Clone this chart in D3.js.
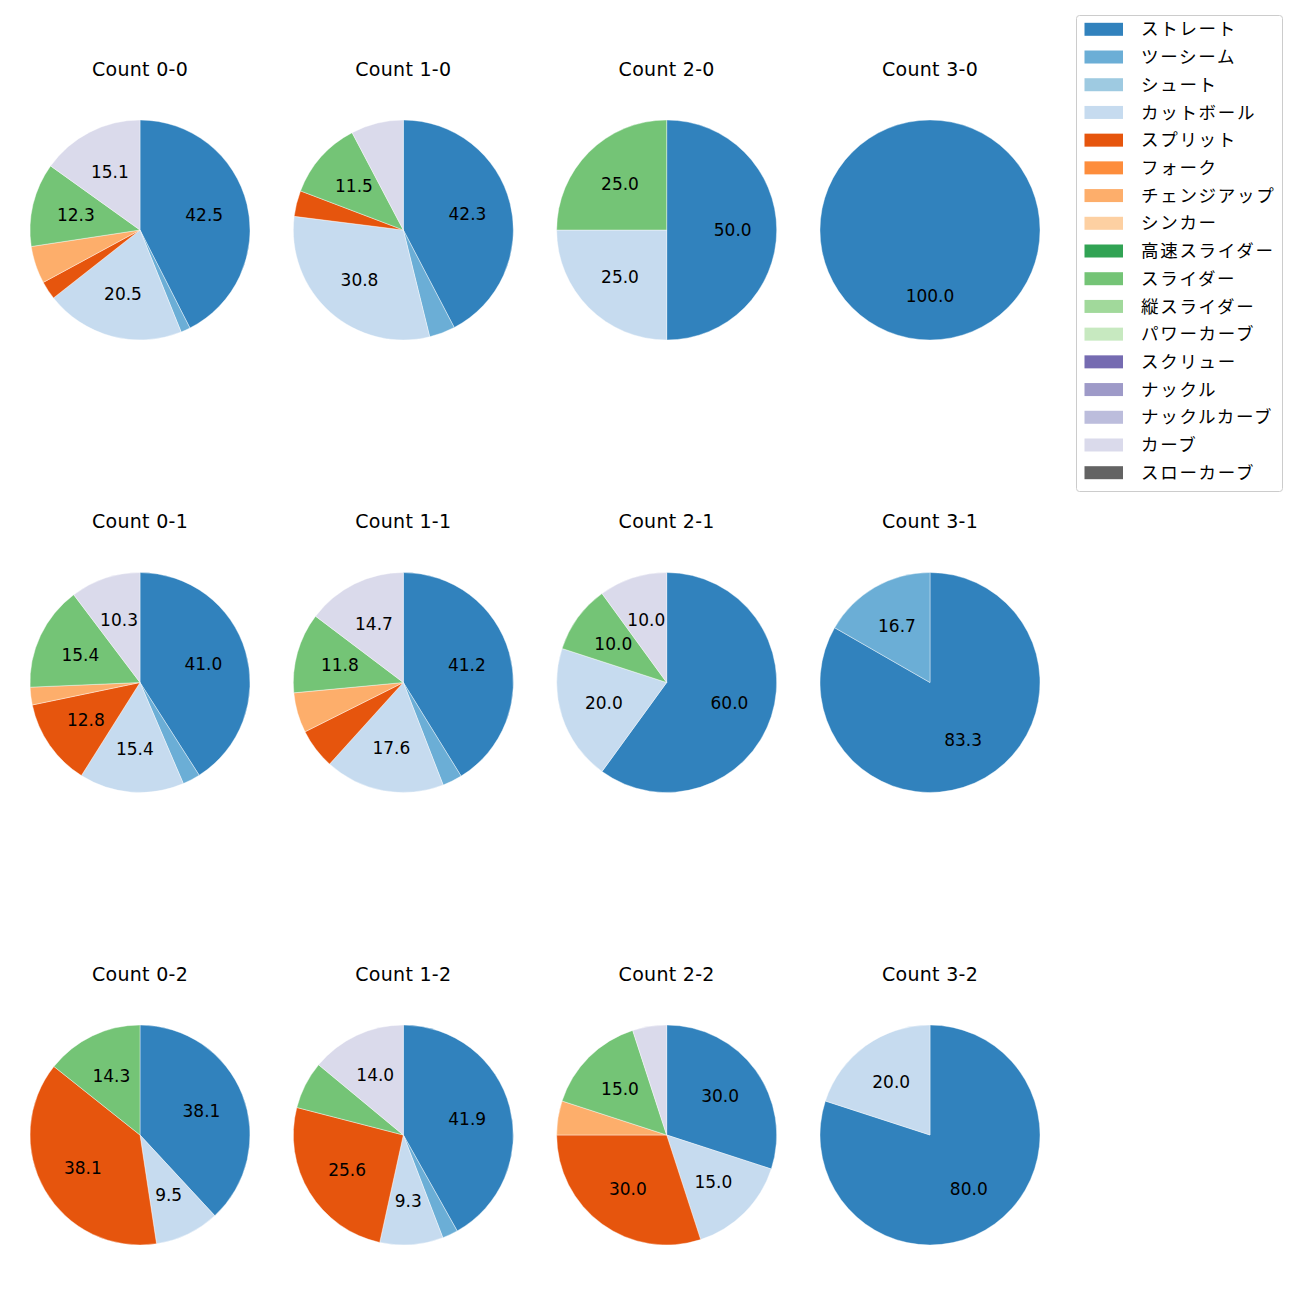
<!DOCTYPE html>
<html>
<head>
<meta charset="utf-8">
<script src="https://cdn.jsdelivr.net/npm/d3@7"></script>
<style>
  html, body { margin: 0; padding: 0; background: #fff; }
  svg { display: block; font-family: "DejaVu Sans", sans-serif; }
  .jp { font-family: "Noto Sans CJK JP", "Noto Sans", sans-serif; }
</style>
</head>
<body>
<svg id="chart" width="1300" height="1300"></svg>
<script>
const pitchTypes = ["ストレート","ツーシーム","シュート","カットボール","スプリット","フォーク","チェンジアップ","シンカー","高速スライダー","スライダー","縦スライダー","パワーカーブ","スクリュー","ナックル","ナックルカーブ","カーブ","スローカーブ"];
const pitchColors = ["#3182bd","#6baed6","#9ecae1","#c6dbef","#e6550d","#fd8d3c","#fdae6b","#fdd0a2","#31a354","#74c476","#a1d99b","#c7e9c0","#756bb1","#9e9ac8","#bcbddc","#dadaeb","#636363"];

const countTitles = ["Count 0-0","Count 1-0","Count 2-0","Count 3-0",
                     "Count 0-1","Count 1-1","Count 2-1","Count 3-1",
                     "Count 0-2","Count 1-2","Count 2-2","Count 3-2"];

// percentages per pitch type (order of pitchTypes)
const count00 = [42.5,1.4,0,20.5,2.7,0,5.5,0,0,12.3,0,0,0,0,0,15.1,0];
const count10 = [42.3,3.8,0,30.8,3.8,0,0,0,0,11.5,0,0,0,0,0,7.7,0];
const count20 = [50.0,0,0,25.0,0,0,0,0,0,25.0,0,0,0,0,0,0,0];
const count30 = [100.0,0,0,0,0,0,0,0,0,0,0,0,0,0,0,0,0];
const count01 = [41.0,2.6,0,15.4,12.8,0,2.6,0,0,15.4,0,0,0,0,0,10.3,0];
const count11 = [41.2,2.9,0,17.6,5.9,0,5.9,0,0,11.8,0,0,0,0,0,14.7,0];
const count21 = [60.0,0,0,20.0,0,0,0,0,0,10.0,0,0,0,0,0,10.0,0];
const count31 = [83.3,16.7,0,0,0,0,0,0,0,0,0,0,0,0,0,0,0];
const count02 = [38.1,0,0,9.5,38.1,0,0,0,0,14.3,0,0,0,0,0,0,0];
const count12 = [41.9,2.3,0,9.3,25.6,0,0,0,0,7.0,0,0,0,0,0,14.0,0];
const count22 = [30.0,0,0,15.0,30.0,0,5.0,0,0,15.0,0,0,0,0,0,5.0,0];
const count32 = [80.0,0,0,20.0,0,0,0,0,0,0,0,0,0,0,0,0,0];

const countValues = [count00,count10,count20,count30,count01,count11,count21,count31,count02,count12,count22,count32];

const labelThreshold = 8;

const svg = d3.select("#chart");
const color = d3.scaleOrdinal().domain(pitchTypes).range(pitchColors);
const xPos = d3.scaleLinear().domain([0,3]).range([140,930]);
const yPos = d3.scaleLinear().domain([0,2]).range([230,1135]);
const R = 110;

const pie = d3.pie().sort(null).value(d => d.value);
const arc = d3.arc().innerRadius(0).outerRadius(R);
const labelArc = d3.arc().innerRadius(R*0.6).outerRadius(R*0.6);

countValues.forEach((vals, i) => {
  const col = i % 4, row = Math.floor(i / 4);
  const cx = xPos(col), cy = yPos(row);
  const data = pitchTypes.map((p, k) => ({type: p, value: vals[k]})).filter(d => d.value > 0);
  const total = d3.sum(data, d => d.value);
  const arcs = pie(data);
  const g = svg.append("g").attr("transform", `translate(${cx},${cy})`);
  g.selectAll("path.slice").data(arcs).enter().append("path")
    .attr("class","slice")
    .attr("d", arc)
    .attr("fill", d => color(d.data.type))
    .attr("stroke", "#fff")
    .attr("stroke-width", 0.4);
  g.selectAll("text.pct").data(arcs.filter(d => d.data.value / total * 100 > labelThreshold)).enter().append("text")
    .attr("class","pct")
    .attr("transform", d => `translate(${labelArc.centroid(d)})`)
    .attr("text-anchor","middle")
    .attr("dy","0.365em")
    .attr("font-size", 17)
    .attr("fill","#000")
    .text(d => (d.data.value / total * 100).toFixed(1));
  svg.append("text")
    .attr("x", cx)
    .attr("y", cy - 154.5)
    .attr("text-anchor","middle")
    .attr("font-size", 19)
    .attr("letter-spacing", 0.3)
    .attr("fill","#000")
    .text(countTitles[i]);
});

// legend
const lg = svg.append("g").attr("transform","translate(1076,15)");
lg.append("rect").attr("x",0.5).attr("y",0.5).attr("width",206).attr("height",476)
  .attr("rx",3).attr("fill","#fff").attr("stroke","#cccccc").attr("stroke-width",1);
const ly = d3.scaleLinear().domain([0, pitchTypes.length-1]).range([14.3, 457.7]);
pitchTypes.forEach((p, k) => {
  lg.append("rect").attr("x",8.5).attr("y",ly(k)-6.5).attr("width",38.5).attr("height",13)
    .attr("fill", color(p));
  lg.append("text").attr("class","jp").attr("x",65).attr("y",ly(k)).attr("dy","0.35em")
    .attr("font-size",17.5).attr("letter-spacing",1.7).attr("fill","#000").text(p);
});
</script>
</body>
</html>
